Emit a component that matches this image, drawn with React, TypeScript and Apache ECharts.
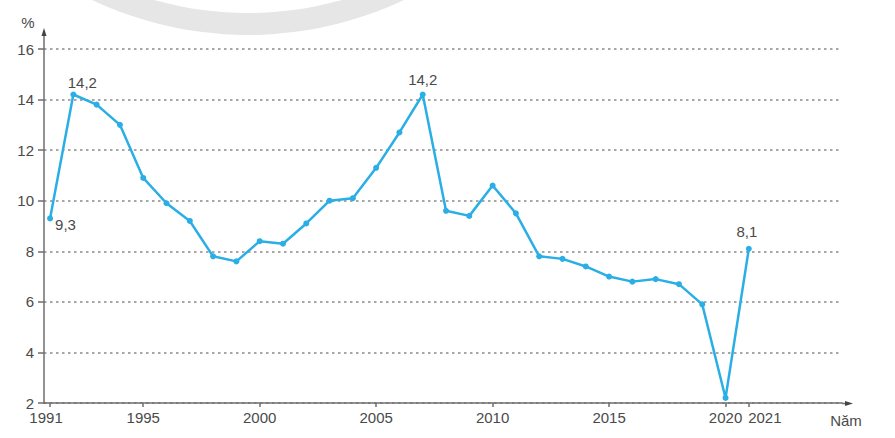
import React, { useEffect, useRef } from "react";
import * as echarts from "echarts";

const years = [
  1991, 1992, 1993, 1994, 1995, 1996, 1997, 1998, 1999, 2000, 2001, 2002, 2003,
  2004, 2005, 2006, 2007, 2008, 2009, 2010, 2011, 2012, 2013, 2014, 2015, 2016,
  2017, 2018, 2019, 2020, 2021,
];
const values = [
  9.3, 14.2, 13.8, 13.0, 10.9, 9.9, 9.2, 7.8, 7.6, 8.4, 8.3, 9.1, 10.0, 10.1,
  11.3, 12.7, 14.2, 9.6, 9.4, 10.6, 9.5, 7.8, 7.7, 7.4, 7.0, 6.8, 6.9, 6.7, 5.9,
  2.2, 8.1,
];
const xTickYears = [1991, 1995, 2000, 2005, 2010, 2015, 2020, 2021];
const labelledYears = [1991, 1992, 2007, 2021];
const yUnit = "%";
const xUnit = "Năm";

const FONT = "'Liberation Sans', Arial, sans-serif";
const TXT = "#4a4a4a";
const LINE = "#2aaee6";
const AX = "#6e6e6e";

const fmt = (v: number) => v.toFixed(1).replace(".", ",");

export default function App() {
  const ref = useRef<HTMLDivElement>(null);
  useEffect(() => {
    if (!ref.current) return;
    const chart = echarts.init(ref.current, undefined, { renderer: "svg" });
    const labelCfg: Record<number, any> = {
      1991: { position: "right", offset: [-2, 6] },
      1992: { position: "top", offset: [9, 2] },
      2007: { position: "top", offset: [0, -1] },
      2021: { position: "top", offset: [-2, -3] },
    };
    const data = years.map((y, i) => {
      const item: any = { value: [y, values[i]] };
      if (labelledYears.includes(y)) {
        item.label = {
          show: true,
          formatter: () => fmt(values[i]),
          color: TXT,
          fontFamily: FONT,
          fontSize: 15,
          distance: 4,
          ...labelCfg[y],
        };
      }
      return item;
    });
    chart.setOption({
      animation: false,
      grid: { left: 44, right: 53, top: 49, bottom: 35, containLabel: false },
      xAxis: {
        type: "value",
        min: 1990.74,
        max: 2025.0,
        axisLine: { show: true, lineStyle: { color: AX, width: 1.5 } },
        axisTick: {
          show: true,
          customValues: xTickYears,
          length: 4,
          inside: false,
          lineStyle: { color: AX, width: 1.5 },
        },
        axisLabel: {
          customValues: xTickYears,
          showMinLabel: true,
          showMaxLabel: true,
          hideOverlap: false,
          formatter: (v: number) =>
            v === 2021 ? `{r|${v}}` : v === 1991 ? `{l|${v}}` : String(v),
          rich: {
            r: { padding: [0, 0, 0, 32], color: TXT, fontFamily: FONT, fontSize: 15 },
            l: { padding: [0, 8, 0, 0], color: TXT, fontFamily: FONT, fontSize: 15 },
          },
          color: TXT,
          fontFamily: FONT,
          fontSize: 15,
          margin: 7,
        },
        splitLine: { show: false },
      },
      yAxis: {
        type: "value",
        min: 2,
        max: 16,
        interval: 2,
        axisLine: { show: true, lineStyle: { color: AX, width: 1.5 } },
        axisTick: { show: true, length: 6, lineStyle: { color: AX, width: 1.5 } },
        axisLabel: {
          color: TXT,
          fontFamily: FONT,
          fontSize: 15,
          margin: 10,
        },
        splitLine: {
          show: true,
          lineStyle: { color: "#8a8a8a", width: 1.5, type: [2.5, 3.5] },
        },
      },
      series: [
        {
          type: "line",
          data,
          symbol: "circle",
          symbolSize: 6,
          itemStyle: { color: LINE },
          lineStyle: { color: LINE, width: 2.5 },
          label: { show: false },
          z: 5,
        },
      ],
      graphic: [
        {
          type: "ring",
          z: -10,
          silent: true,
          shape: { cx: 248, cy: -330, r: 365, r0: 343 },
          style: { fill: "#e6e6e6" },
        },
        {
          type: "line",
          shape: { x1: 44, y1: 49, x2: 44, y2: 33 },
          style: { stroke: AX, lineWidth: 1.5 },
        },
        {
          type: "polygon",
          shape: { points: [[44, 28], [41.5, 36], [46.5, 36]] },
          style: { fill: "#444" },
        },
        {
          type: "line",
          shape: { x1: 842, y1: 403.5, x2: 848, y2: 403.5 },
          style: { stroke: AX, lineWidth: 1.5 },
        },
        {
          type: "polygon",
          shape: { points: [[853, 403.5], [845, 401], [845, 406]] },
          style: { fill: "#444" },
        },
        {
          type: "text",
          x: 28,
          y: 22,
          style: {
            text: yUnit,
            fill: TXT,
            font: `15px ${FONT}`,
            align: "center",
            verticalAlign: "middle",
          },
        },
        {
          type: "text",
          x: 846,
          y: 420,
          style: {
            text: xUnit,
            fill: TXT,
            font: `15px ${FONT}`,
            align: "center",
            verticalAlign: "middle",
          },
        },
      ],
    });
    return () => chart.dispose();
  }, []);
  return (
    <div
      ref={ref}
      style={{ position: "fixed", left: 0, top: 0, width: 895, height: 438, background: "#fff" }}
    />
  );
}
